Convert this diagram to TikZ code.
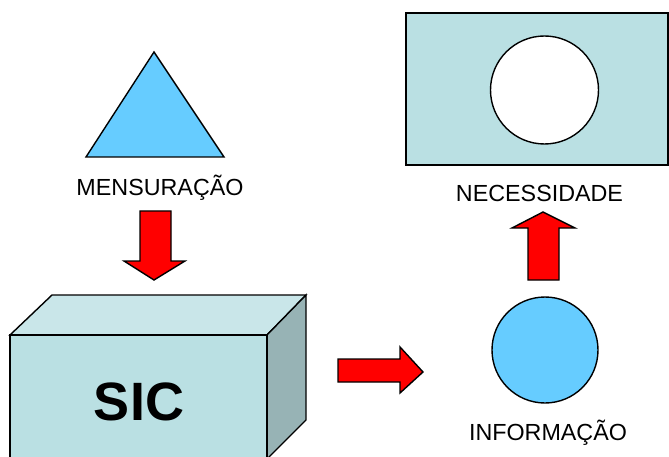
\documentclass[tikz,border=0pt]{standalone}
\usepackage{fontspec}
\setmainfont{Liberation Sans}
\begin{document}
\begin{tikzpicture}[x=1pt,y=-1pt,
  outline/.style={draw=black,line width=1.4pt,line join=miter},
  sky/.style={outline,fill=skyblue},
  blockarrow/.style={outline,fill=arrowred},
  caption/.style={anchor=base,inner sep=0pt,font=\fontsize{23.3}{26}\selectfont},
]
\definecolor{skyblue}{HTML}{66CCFF}
\definecolor{pale}{HTML}{BAE0E3}
\definecolor{paletop}{HTML}{C9E6E9}
\definecolor{paleside}{HTML}{97B3B5}
\definecolor{arrowred}{HTML}{FF0000}
\useasboundingbox (0,0) rectangle (669,457);
\begin{scope}
\clip (0,0) rectangle (669,457);

% measurement triangle
\draw[sky] (154,52) -- (224,157) -- (86,157) -- cycle;
\node[caption] (mens) at (160,196) {MENSURAÇÃO};

% arrow into the system
\draw[blockarrow] (140,211) -- (171,211) -- (171,261) -- (185,261)
  -- (154,280) -- (124,261) -- (140,261) -- cycle;

% the SIC box
\draw[outline,fill=paletop] (10,335) -- (52,295) -- (306,295) -- (267,335) -- cycle;
\draw[outline,fill=paleside] (267,335) -- (306,295) -- (306,420) -- (267,459) -- cycle;
\draw[outline,fill=pale] (10,335) rectangle (267,462);
\node[anchor=base,inner sep=0pt,font=\fontsize{54}{60}\selectfont\bfseries] (sic) at (139,420) {SIC};

% arrow out of the system
\draw[blockarrow] (338,359) -- (400,359) -- (400,347) -- (423,372)
  -- (400,393) -- (400,382) -- (338,382) -- cycle;

% information
\draw[sky] (545,350) circle[radius=53];
\node[caption] (info) at (548,440) {INFORMAÇÃO};

% arrow up to the need
\draw[blockarrow] (528,280) -- (559,280) -- (559,228) -- (575,228)
  -- (543,212) -- (512,228) -- (528,228) -- cycle;

% the need
\draw[outline,fill=pale] (406,13) rectangle (668,165);
\draw[outline,fill=white] (544.5,90) circle[radius=54];
\node[caption] (need) at (539.5,202) {NECESSIDADE};
\end{scope}
\end{tikzpicture}
\end{document}
